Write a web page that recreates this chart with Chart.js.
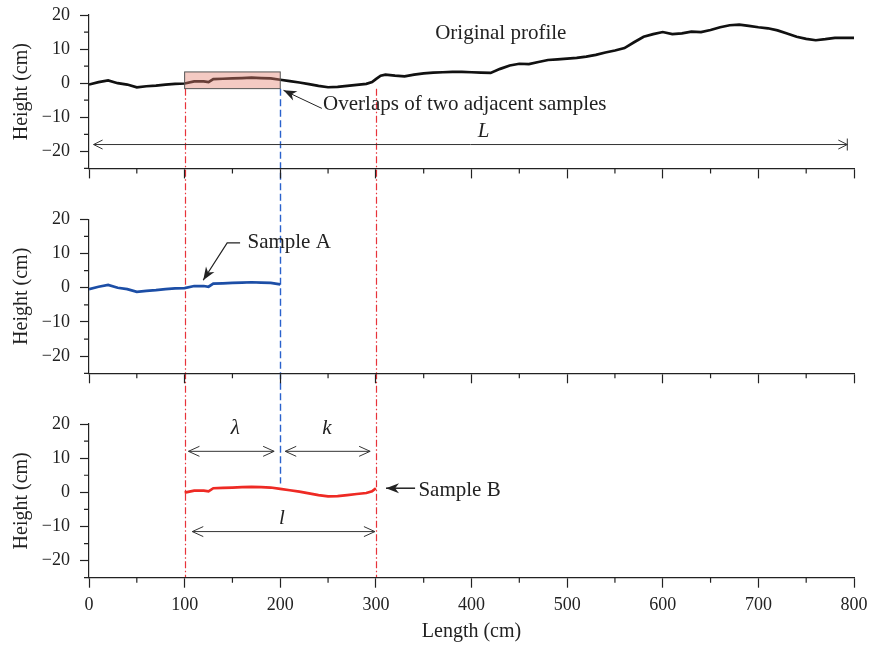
<!DOCTYPE html>
<html>
<head>
<meta charset="utf-8">
<script src="https://cdn.jsdelivr.net/npm/chart.js@4"></script>
<style>
  html, body { margin: 0; padding: 0; background: #fff; }
  #wrap { position: relative; width: 870px; height: 646px; }
  canvas { position: absolute; left: 0; }
</style>
</head>
<body>
<div id="wrap">
  <canvas id="guides" width="870" height="646" style="top:0"></canvas>
  <canvas id="p1" width="870" height="200" style="top:0"></canvas>
  <canvas id="p2" width="870" height="200" style="top:200px"></canvas>
  <canvas id="p3" width="870" height="246" style="top:400px"></canvas>
</div>
<script>
/* ── Datos del perfil ─────────────────────────────────────── */
const lengths = [
  0, 10, 20, 30, 40, 50, 60, 70, 80, 90,
  100, 110, 120, 125, 130, 140, 150, 160, 170, 180, 190,
  200, 210, 220, 230, 240, 250, 260, 270, 280, 290, 296,
  300, 305, 310, 320, 330, 340, 350, 360, 370, 380, 390,
  400, 410, 420, 430, 440, 450, 460, 470, 480, 490,
  500, 510, 520, 530, 540, 550, 560, 570, 580, 590,
  600, 610, 620, 630, 640, 650, 660, 670, 680, 690,
  700, 710, 720, 730, 740, 750, 760, 770, 780, 790, 800
];
const heights = [
  -0.4, 0.3, 0.8, 0.0, -0.4, -1.2, -0.9, -0.7, -0.4, -0.2,
  -0.1, 0.5, 0.5, 0.3, 1.2, 1.3, 1.4, 1.5, 1.6, 1.5, 1.4,
  1.0, 0.6, 0.2, -0.3, -0.8, -1.2, -1.1, -0.8, -0.5, -0.2, 0.3,
  1.2, 2.2, 2.5, 2.2, 2.0, 2.5, 2.9, 3.1, 3.2, 3.3, 3.3,
  3.2, 3.1, 3.0, 4.2, 5.2, 5.7, 5.6, 6.2, 6.8, 7.0,
  7.2, 7.4, 7.8, 8.3, 9.0, 9.6, 10.3, 12.0, 13.6, 14.4,
  15.0, 14.4, 14.6, 15.1, 15.0, 15.6, 16.4, 17.0, 17.2, 16.8,
  16.4, 16.1, 15.5, 14.6, 13.6, 13.0, 12.6, 12.9, 13.3, 13.3, 13.3
];

const sampleA = [0, 200];      // tramo de la muestra A
const sampleB = [100, 300];    // tramo de la muestra B
const xTickValues = [0, 100, 200, 300, 400, 500, 600, 700, 800];
const yTickValues = [-20, -10, 0, 10, 20];

const X_MIN = 0, X_MAX = 800, Y_MIN = -25, Y_MAX = 20;

/* ── Estilo ───────────────────────────────────────────────── */
const SERIF = "'Liberation Serif','DejaVu Serif',serif";
const INK = '#222';
const TXT = `21px ${SERIF}`;
const ITAL = `italic 21px ${SERIF}`;
Chart.defaults.font.family = SERIF;
Chart.defaults.color = INK;

const fmt = v => (v < 0 ? '\u2212' + Math.abs(v) : String(v));
const pts = ([a, b]) => lengths
  .map((x, i) => ({ x, y: heights[i] }))
  .filter(p => p.x >= a && p.x <= b);

/* ── Helpers de dibujo ────────────────────────────────────── */
function chevron(ctx, x, y, ang, len = 11, half = 5) {
  const c = Math.cos(ang), s = Math.sin(ang);
  ctx.beginPath();
  ctx.moveTo(x - len * c + half * s, y - len * s - half * c);
  ctx.lineTo(x, y);
  ctx.lineTo(x - len * c - half * s, y - len * s + half * c);
  ctx.stroke();
}
function solidHead(ctx, x, y, ang, len = 13, half = 5) {
  const c = Math.cos(ang), s = Math.sin(ang);
  ctx.beginPath();
  ctx.moveTo(x, y);
  ctx.lineTo(x - len * c + half * s, y - len * s - half * c);
  ctx.lineTo(x - len * c * 0.7, y - len * s * 0.7);
  ctx.lineTo(x - len * c - half * s, y - len * s + half * c);
  ctx.closePath();
  ctx.fill();
}
function dblArrow(ctx, x0, x1, y) {
  ctx.beginPath(); ctx.moveTo(x0, y); ctx.lineTo(x1, y); ctx.stroke();
  chevron(ctx, x0, y, Math.PI);
  chevron(ctx, x1, y, 0);
}
function pointer(ctx, path) {
  // path: lista de píxeles, el último es la punta
  ctx.beginPath();
  ctx.moveTo(path[0][0], path[0][1]);
  path.slice(1).forEach(p => ctx.lineTo(p[0], p[1]));
  ctx.stroke();
  const [a, b] = path.slice(-2);
  solidHead(ctx, b[0], b[1], Math.atan2(b[1] - a[1], b[0] - a[0]));
}
function label(ctx, text, x, y, font = TXT, align = 'left') {
  ctx.font = font; ctx.fillStyle = INK;
  ctx.textAlign = align; ctx.textBaseline = 'middle';
  ctx.fillText(text, x, y);
}

/* ── Ticks menores ────────────────────────────────────────── */
const minorTicks = {
  id: 'minorTicks',
  afterDraw(chart) {
    const { ctx, chartArea: a, scales: { x, y } } = chart;
    ctx.save();
    ctx.strokeStyle = INK; ctx.lineWidth = 1.2;
    ctx.beginPath();
    for (let v = X_MIN; v <= X_MAX; v += 50) {
      if (v % 100 === 0) continue;
      const px = x.getPixelForValue(v);
      ctx.moveTo(px, a.bottom); ctx.lineTo(px, a.bottom + 5);
    }
    for (let v = Y_MIN; v <= Y_MAX; v += 5) {
      if (v % 10 === 0) continue;
      const py = y.getPixelForValue(v);
      ctx.moveTo(a.left, py); ctx.lineTo(a.left - 5, py);
    }
    ctx.stroke();
    ctx.restore();
  }
};

/* ── Fábrica de paneles ───────────────────────────────────── */
function makePanel(id, cfg) {
  return new Chart(document.getElementById(id), {
    type: 'line',
    data: {
      datasets: [{
        data: cfg.data,
        borderColor: cfg.color,
        borderWidth: 2.7,
        pointRadius: 0,
        tension: 0,
        fill: false,
      }],
    },
    options: {
      responsive: false, animation: false, devicePixelRatio: 1,
      layout: { padding: { top: cfg.padTop, bottom: cfg.padBottom, left: 0, right: 16 } },
      plugins: { legend: { display: false }, tooltip: { enabled: false } },
      scales: {
        x: {
          type: 'linear', min: X_MIN, max: X_MAX,
          afterFit: s => {
            s.height = cfg.xHeight;
            s.paddingLeft = 0; s.paddingRight = 0;
          },
          border: { display: true, color: INK, width: 1.3 },
          grid: {
            drawOnChartArea: false, tickLength: 10, tickWidth: 1.2,
            tickColor: c => (c.tick && xTickValues.includes(c.tick.value) ? INK : 'rgba(0,0,0,0)'),
          },
          ticks: {
            stepSize: 50, autoSkip: false, maxRotation: 0, padding: 7,
            color: INK, font: { size: 18 },
            callback: v => (cfg.xLabels && xTickValues.includes(v) ? String(v) : ''),
          },
          title: {
            display: !!cfg.xLabels, text: 'Length (cm)', color: INK,
            font: { size: 20 }, padding: { top: 0, bottom: 2 },
          },
        },
        y: {
          type: 'linear', min: Y_MIN, max: Y_MAX,
          afterFit: s => {
            s.width = 89;
            s.paddingTop = 0; s.paddingBottom = 0;
          },
          border: { display: true, color: INK, width: 1.2 },
          grid: {
            drawOnChartArea: false, tickLength: 9, tickWidth: 1.2,
            tickColor: c => (c.tick && yTickValues.includes(c.tick.value) ? INK : 'rgba(0,0,0,0)'),
          },
          ticks: {
            stepSize: 5, autoSkip: false, padding: 10, color: INK, font: { size: 18 },
            callback: v => (yTickValues.includes(v) ? fmt(v) : ''),
          },
          title: {
            display: true, text: 'Height (cm)', color: INK,
            font: { size: 20 }, padding: { top: 10, bottom: 0 },
          },
        },
      },
    },
    plugins: [minorTicks, { id: 'notes-' + id, afterDatasetsDraw: cfg.notes }],
  });
}

/* ── 1. Perfil original ───────────────────────────────────── */
const chart1 = makePanel('p1', {
  data: pts([X_MIN, X_MAX]), color: '#111',
  padTop: 15, padBottom: 19.6, xHeight: 12, xLabels: false,
  notes(chart) {
    const { ctx, scales: { x, y } } = chart;
    ctx.save();
    // caja de solape
    const bx0 = x.getPixelForValue(100), bx1 = x.getPixelForValue(200);
    const by0 = y.getPixelForValue(3.3), by1 = y.getPixelForValue(-1.6);
    ctx.fillStyle = 'rgba(228,128,112,0.42)';
    ctx.fillRect(bx0, by0, bx1 - bx0, by1 - by0);
    ctx.strokeStyle = '#555'; ctx.lineWidth = 1;
    ctx.strokeRect(bx0, by0, bx1 - bx0, by1 - by0);

    label(ctx, 'Original profile', x.getPixelForValue(362), y.getPixelForValue(14.6));

    ctx.strokeStyle = INK; ctx.fillStyle = INK; ctx.lineWidth = 1;
    pointer(ctx, [
      [x.getPixelForValue(243.5), y.getPixelForValue(-7.4)],
      [x.getPixelForValue(203.4), y.getPixelForValue(-2.1)],
    ]);
    label(ctx, 'Overlaps of two adjacent samples', x.getPixelForValue(244.8), y.getPixelForValue(-6.2));

    // flecha L
    const ly = y.getPixelForValue(-18), lx0 = x.getPixelForValue(4.8), lx1 = x.getPixelForValue(793);
    ctx.strokeStyle = '#333'; ctx.lineWidth = 1;
    ctx.beginPath(); ctx.moveTo(lx0, ly); ctx.lineTo(lx1, ly); ctx.stroke();
    chevron(ctx, lx0, ly, Math.PI, 9, 4.5);
    chevron(ctx, lx1, ly, 0, 9, 4.5);
    ctx.beginPath(); ctx.moveTo(lx1, ly - 6); ctx.lineTo(lx1, ly + 6); ctx.stroke();
    label(ctx, 'L', x.getPixelForValue(412.6), y.getPixelForValue(-14.3), ITAL, 'center');
    ctx.restore();
  },
});

/* ── 2. Muestra A ─────────────────────────────────────────── */
const chart2 = makePanel('p2', {
  data: pts(sampleA), color: '#1c4ea6',
  padTop: 19.3, padBottom: 14.7, xHeight: 12, xLabels: false,
  notes(chart) {
    const { ctx, scales: { x, y } } = chart;
    ctx.save();
    ctx.strokeStyle = INK; ctx.fillStyle = INK; ctx.lineWidth = 1.2;
    pointer(ctx, [
      [x.getPixelForValue(158), y.getPixelForValue(13.1)],
      [x.getPixelForValue(144.5), y.getPixelForValue(13.1)],
      [x.getPixelForValue(119.4), y.getPixelForValue(2.2)],
    ]);
    label(ctx, 'Sample A', x.getPixelForValue(165.7), y.getPixelForValue(13.1));
    ctx.restore();
  },
});

/* ── 3. Muestra B ─────────────────────────────────────────── */
const chart3 = makePanel('p3', {
  data: pts(sampleB), color: '#ee2a24',
  padTop: 24, padBottom: 0, xHeight: 68.3, xLabels: true,
  notes(chart) {
    const { ctx, scales: { x, y } } = chart;
    ctx.save();
    ctx.strokeStyle = '#333'; ctx.lineWidth = 1;
    dblArrow(ctx, x.getPixelForValue(104), x.getPixelForValue(193.6), y.getPixelForValue(12));
    dblArrow(ctx, x.getPixelForValue(205.2), x.getPixelForValue(294), y.getPixelForValue(12));
    dblArrow(ctx, x.getPixelForValue(108), x.getPixelForValue(299), y.getPixelForValue(-11.5));
    label(ctx, '\u03bb', x.getPixelForValue(153), y.getPixelForValue(18.7), ITAL, 'center');
    label(ctx, 'k', x.getPixelForValue(248.7), y.getPixelForValue(18.7), ITAL, 'center');
    label(ctx, 'l', x.getPixelForValue(201.7), y.getPixelForValue(-7.7), ITAL, 'center');

    ctx.strokeStyle = INK; ctx.fillStyle = INK; ctx.lineWidth = 1.5;
    pointer(ctx, [
      [x.getPixelForValue(341), y.getPixelForValue(1.2)],
      [x.getPixelForValue(310.6), y.getPixelForValue(1.2)],
    ]);
    label(ctx, 'Sample B', x.getPixelForValue(344.5), y.getPixelForValue(0.6));
    ctx.restore();
  },
});

/* ── Guías verticales entre paneles ───────────────────────── */
(function drawGuides() {
  const g = document.getElementById('guides').getContext('2d');
  const off1 = 0, off3 = 400;
  const x = chart3.scales.x;
  const yTop = off1 + chart1.scales.y.getPixelForValue(-1.6);
  const yRedEnd = off3 + chart3.scales.y.getPixelForValue(Y_MIN);
  const yBlueEnd = off3 + chart3.scales.y.getPixelForValue(2.6);
  g.lineWidth = 1.2;
  g.strokeStyle = '#e8333a';
  g.setLineDash([7, 2.5, 1.5, 2.5]);
  [sampleB[0], sampleB[1]].forEach(v => {
    const px = Math.round(x.getPixelForValue(v)) + 0.5;
    g.beginPath(); g.moveTo(px, yTop); g.lineTo(px, yRedEnd); g.stroke();
  });
  g.strokeStyle = '#2a62cc';
  g.lineWidth = 1.4;
  g.setLineDash([7, 3.5]);
  const bx = Math.round(x.getPixelForValue(sampleA[1])) + 0.5;
  g.beginPath(); g.moveTo(bx, yTop); g.lineTo(bx, yBlueEnd); g.stroke();
})();
</script>
</body>
</html>
